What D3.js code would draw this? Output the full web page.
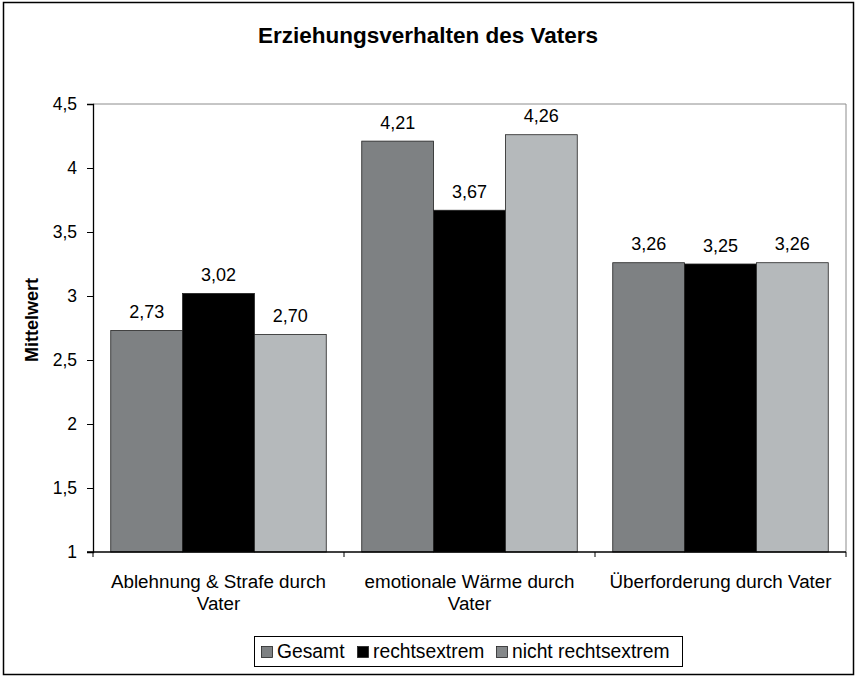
<!DOCTYPE html>
<html>
<head>
<meta charset="utf-8">
<script src="https://cdn.jsdelivr.net/npm/d3@7"></script>
<style>
body { margin: 0; background: #fff; }
text { font-family: "Liberation Sans", Arial, sans-serif; fill: #000; }
</style>
</head>
<body>
<svg id="chart" width="855" height="677"></svg>
<script>
// data
var categories = [["Ablehnung & Strafe durch", "Vater"], ["emotionale Wärme durch", "Vater"], ["Überforderung durch Vater"]];
var series = ["Gesamt", "rechtsextrem", "nicht rechtsextrem"];
var gesamt = [2.73, 4.21, 3.26];
var rechtsextrem = [3.02, 3.67, 3.25];
var nichtRechtsextrem = [2.70, 4.26, 3.26];
var yTicks = [1, 1.5, 2, 2.5, 3, 3.5, 4, 4.5];

var values = [gesamt, rechtsextrem, nichtRechtsextrem];
var colors = ["#7e8183", "#000000", "#b5b9bb"];
var swatchColors = ["#7e8183", "#000000", "#85888a"];

var svg = d3.select("#chart");
var m = {left: 93, top: 104, right: 846, bottom: 552};

// outer frame
svg.append("rect").attr("x", 3.5).attr("y", 2.5).attr("width", 850).attr("height", 672)
	.attr("fill", "#fff").attr("stroke", "#000").attr("stroke-width", 1.5);

svg.append("text").attr("x", 428).attr("y", 43).attr("text-anchor", "middle")
	.style("font-size", "22.5px").style("font-weight", "bold")
	.text("Erziehungsverhalten des Vaters");

var x = d3.scaleBand().domain(d3.range(categories.length)).range([m.left, m.right]).paddingOuter(0).paddingInner(0);
var xs = d3.scaleBand().domain(d3.range(series.length)).range([0, x.bandwidth()]).paddingOuter(0.247).paddingInner(0);
var y = d3.scaleLinear().domain([1, 4.5]).range([m.bottom, m.top]);

// plot area frame (top/right)
svg.append("path").attr("d", "M" + m.left + "," + m.top + "H" + m.right + "V" + m.bottom)
	.attr("fill", "none").attr("stroke", "#8c8c8c").attr("stroke-width", 1);

// bars
var groups = svg.append("g").selectAll("g").data(categories).join("g")
	.attr("transform", function(d, i) { return "translate(" + x(i) + ",0)"; });

groups.each(function(d, ci) {
	var g = d3.select(this);
	series.forEach(function(s, si) {
		var v = values[si][ci];
		g.append("rect").attr("x", xs(si)).attr("y", y(v))
			.attr("width", xs.bandwidth()).attr("height", y(1) - y(v))
			.attr("fill", colors[si]).attr("stroke", "#222").attr("stroke-width", 0.8);
		g.append("text").attr("x", xs(si) + xs.bandwidth() / 2).attr("y", y(v) - 12.5)
			.attr("text-anchor", "middle").style("font-size", "18px")
			.text(v.toFixed(2).replace(".", ","));
	});
});

// y axis
var yAxis = d3.axisLeft(y).tickValues(yTicks).tickSize(6).tickPadding(10)
	.tickFormat(function(d) { return String(d).replace(".", ","); });
var ya = svg.append("g").attr("transform", "translate(" + m.left + ",0)").call(yAxis);
ya.select(".domain").attr("stroke", "#000").attr("stroke-width", 1.3);
ya.selectAll(".tick line").attr("stroke", "#000");
ya.selectAll("text").style("font-size", "17.5px").style("font-family", "Liberation Sans, Arial, sans-serif");

// x axis line and boundary ticks
svg.append("line").attr("x1", m.left - 6).attr("x2", m.right).attr("y1", m.bottom).attr("y2", m.bottom)
	.attr("stroke", "#000").attr("stroke-width", 1.3);
var bounds = d3.range(categories.length).map(function(i) { return x(i); }).concat([m.right]);
svg.append("g").selectAll("line").data(bounds).join("line")
	.attr("x1", function(d) { return d; }).attr("x2", function(d) { return d; })
	.attr("y1", m.bottom).attr("y2", m.bottom + 5).attr("stroke", "#000");

// category labels
categories.forEach(function(lines, i) {
	var t = svg.append("text").attr("text-anchor", "middle").style("font-size", "18.8px")
		.attr("x", x(i) + x.bandwidth() / 2).attr("y", 588);
	lines.forEach(function(l, li) {
		t.append("tspan").attr("x", x(i) + x.bandwidth() / 2).attr("dy", li == 0 ? 0 : 22).text(l);
	});
});

// y label
svg.append("text").attr("transform", "translate(38,320) rotate(-90)")
	.attr("text-anchor", "middle").style("font-size", "18px").style("font-weight", "bold")
	.text("Mittelwert");

// legend
var legend = svg.append("g");
legend.append("rect").attr("x", 254.5).attr("y", 636.5).attr("width", 428).attr("height", 30)
	.attr("fill", "#fff").attr("stroke", "#000").attr("stroke-width", 1);
var lx = [261, 357, 496];
series.forEach(function(s, i) {
	legend.append("rect").attr("x", lx[i] + 0.5).attr("y", 646.5).attr("width", 11).attr("height", 11)
		.attr("fill", swatchColors[i]).attr("stroke", "#222").attr("stroke-width", 0.8);
	legend.append("text").attr("x", lx[i] + 16).attr("y", 658).style("font-size", "19.3px").text(s);
});
</script>
</body>
</html>
